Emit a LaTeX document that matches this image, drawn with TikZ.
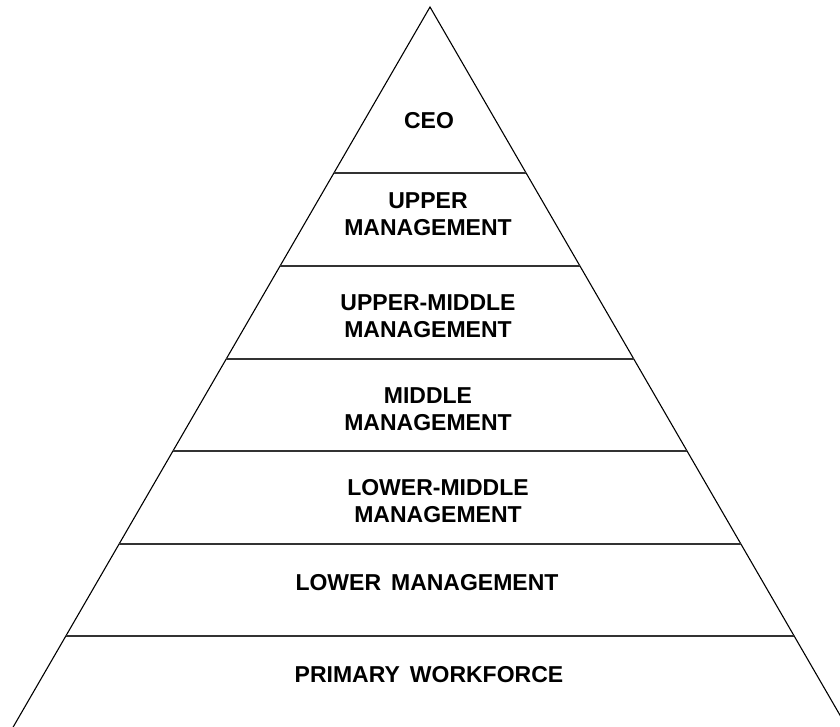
\documentclass[tikz,border=0pt]{standalone}
\usepackage{fontspec}
\setmainfont{Liberation Sans}
\usetikzlibrary{calc}
\tikzset{
	tier/.style={font=\fontsize{23}{27}\selectfont\bfseries, align=center, inner sep=0pt},
	side/.style={line width=1.1pt, line join=miter},
	level/.style={line width=1.2pt, black!80}
}
\begin{document}
\begin{tikzpicture}[x=1pt, y=-1pt]
	\useasboundingbox (0,0) rectangle (840,727);
	\clip (0,0) rectangle (840,727);
	\coordinate (apex) at (430,7);
	\coordinate (left) at (12,729);
	\coordinate (right) at (848,729);
	\draw[side] (left) -- (apex) -- (right);
	% dividing lines between the tiers
	\foreach \y in {173,266,359,451,544,636} {
		\pgfmathsetmacro\t{(\y-7)/722}
		\draw[level] ($(apex)!\t!(left)$) -- ($(apex)!\t!(right)$);
	}
	\node[tier] (ceo) at (429,120.5) {CEO};
	\node[tier] (upper) at (428,214) {UPPER\\MANAGEMENT};
	\node[tier] (uppermid) at (428,316) {UPPER-MIDDLE\\MANAGEMENT};
	\node[tier] (middle) at (428,409) {MIDDLE\\MANAGEMENT};
	\node[tier] (lowermid) at (438,501) {LOWER-MIDDLE\\MANAGEMENT};
	\node[tier] (lower) at (427,582.5) {LOWER\hspace{10pt}MANAGEMENT};
	\node[tier] (primary) at (429,675) {PRIMARY\hspace{10pt}WORKFORCE};
\end{tikzpicture}
\end{document}
